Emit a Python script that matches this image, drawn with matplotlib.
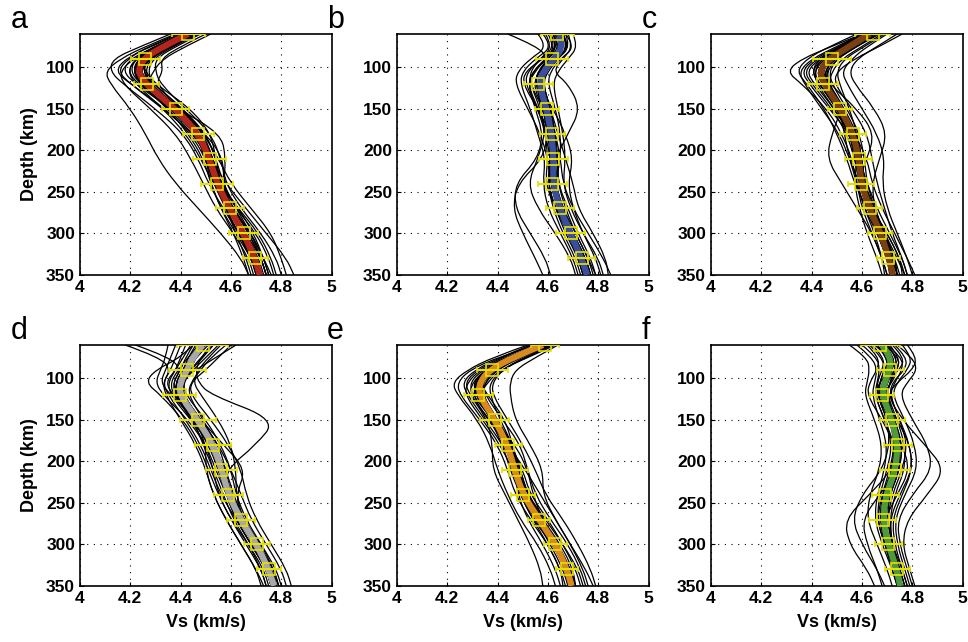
import matplotlib
matplotlib.use("Agg")
import matplotlib.pyplot as plt
from matplotlib.path import Path
from matplotlib.patches import PathPatch

plt.rcParams['font.family'] = ['Liberation Sans', 'DejaVu Sans']

# depth nodes (km) shared by every profile
DEPTH = [60, 75, 90, 105, 120, 150, 180, 210, 240, 270, 300, 330, 350]
# depths of the yellow error bars
BAR_DEPTH = [60, 90, 120, 150, 180, 210, 240, 270, 300, 330]

LETTERS = ["a", "b", "c", "d", "e", "f"]
MEAN_COLORS = ["#b3261e", "#3a4ea0", "#7b3f12", "#a8a8a8", "#d88a1e", "#4c9a3c"]
YELLOW = "#e6e000"

# mean profiles (thick coloured line)
mean_a = [4.43, 4.33, 4.25, 4.23, 4.26, 4.38, 4.47, 4.515, 4.545, 4.595, 4.65, 4.695, 4.715]
mean_b = [4.645, 4.66, 4.627, 4.58, 4.565, 4.594, 4.614, 4.623, 4.62, 4.647, 4.69, 4.733, 4.756]
mean_c = [4.63, 4.55, 4.47, 4.43, 4.45, 4.514, 4.564, 4.588, 4.597, 4.63, 4.674, 4.707, 4.723]
mean_d = [4.487, 4.447, 4.427, 4.397, 4.397, 4.467, 4.529, 4.563, 4.59, 4.639, 4.702, 4.749, 4.771]
mean_e = [4.58, 4.46, 4.369, 4.329, 4.326, 4.389, 4.439, 4.468, 4.501, 4.565, 4.631, 4.676, 4.694]
mean_f = [4.68, 4.716, 4.709, 4.69, 4.68, 4.719, 4.742, 4.733, 4.696, 4.683, 4.705, 4.738, 4.752]

# error bar centres and half widths
bar_a = [4.43, 4.26, 4.266, 4.381, 4.471, 4.515, 4.544, 4.595, 4.651, 4.696]
err_a = [0.065, 0.057, 0.05, 0.054, 0.06, 0.065, 0.063, 0.056, 0.057, 0.05]
bar_b = [4.638, 4.617, 4.562, 4.595, 4.618, 4.622, 4.618, 4.647, 4.69, 4.735]
err_b = [0.066, 0.063, 0.058, 0.048, 0.05, 0.058, 0.058, 0.055, 0.056, 0.054]
bar_c = [4.643, 4.482, 4.445, 4.513, 4.563, 4.587, 4.597, 4.631, 4.672, 4.705]
err_c = [0.07, 0.075, 0.059, 0.048, 0.052, 0.054, 0.052, 0.049, 0.049, 0.046]
bar_d = [4.487, 4.427, 4.397, 4.47, 4.529, 4.562, 4.589, 4.64, 4.702, 4.751]
err_d = [0.10, 0.072, 0.066, 0.072, 0.071, 0.062, 0.057, 0.055, 0.052, 0.048]
bar_e = [4.588, 4.379, 4.324, 4.389, 4.442, 4.468, 4.501, 4.566, 4.63, 4.676]
err_e = [0.056, 0.062, 0.058, 0.058, 0.054, 0.052, 0.048, 0.044, 0.045, 0.045]
bar_f = [4.672, 4.713, 4.678, 4.721, 4.744, 4.731, 4.692, 4.682, 4.705, 4.74]
err_f = [0.077, 0.053, 0.048, 0.05, 0.056, 0.06, 0.054, 0.055, 0.053, 0.05]

# ensemble members (thin black lines)
members_a = [
    [4.40, 4.28, 4.18, 4.14, 4.20, 4.34, 4.44, 4.50, 4.53, 4.58, 4.62, 4.66, 4.68],
    [4.45, 4.35, 4.27, 4.25, 4.28, 4.40, 4.50, 4.54, 4.57, 4.62, 4.68, 4.72, 4.74],
    [4.48, 4.38, 4.30, 4.30, 4.32, 4.42, 4.52, 4.56, 4.58, 4.64, 4.72, 4.78, 4.80],
    [4.42, 4.30, 4.20, 4.17, 4.22, 4.36, 4.47, 4.52, 4.55, 4.58, 4.63, 4.68, 4.70],
    [4.38, 4.26, 4.16, 4.10, 4.12, 4.20, 4.26, 4.31, 4.38, 4.47, 4.56, 4.64, 4.67],
    [4.50, 4.40, 4.32, 4.33, 4.30, 4.40, 4.48, 4.52, 4.54, 4.60, 4.66, 4.70, 4.72],
    [4.44, 4.33, 4.24, 4.21, 4.25, 4.37, 4.46, 4.52, 4.58, 4.66, 4.74, 4.82, 4.85],
    [4.41, 4.29, 4.22, 4.20, 4.24, 4.35, 4.43, 4.49, 4.52, 4.56, 4.61, 4.65, 4.67],
    [4.46, 4.36, 4.28, 4.24, 4.26, 4.39, 4.56, 4.58, 4.57, 4.60, 4.65, 4.70, 4.72],
    [4.43, 4.31, 4.21, 4.16, 4.17, 4.28, 4.38, 4.44, 4.49, 4.54, 4.61, 4.67, 4.69],
    [4.47, 4.37, 4.29, 4.27, 4.29, 4.41, 4.49, 4.55, 4.60, 4.68, 4.76, 4.80, 4.82],
    [4.39, 4.27, 4.19, 4.15, 4.20, 4.33, 4.45, 4.51, 4.55, 4.61, 4.67, 4.72, 4.74],
    [4.52, 4.42, 4.33, 4.29, 4.27, 4.36, 4.46, 4.50, 4.52, 4.56, 4.62, 4.68, 4.71],
    [4.45, 4.34, 4.26, 4.23, 4.27, 4.38, 4.48, 4.53, 4.56, 4.62, 4.70, 4.75, 4.77],
    [4.36, 4.24, 4.13, 4.12, 4.17, 4.30, 4.41, 4.47, 4.51, 4.57, 4.63, 4.69, 4.71],
    [4.44, 4.32, 4.23, 4.22, 4.26, 4.39, 4.50, 4.57, 4.57, 4.59, 4.64, 4.69, 4.71],
    [4.43, 4.30, 4.24, 4.26, 4.30, 4.44, 4.52, 4.54, 4.55, 4.63, 4.71, 4.76, 4.78],
    [4.41, 4.31, 4.22, 4.19, 4.22, 4.33, 4.42, 4.48, 4.53, 4.60, 4.68, 4.73, 4.75],
    [4.42, 4.32, 4.24, 4.21, 4.24, 4.36, 4.46, 4.51, 4.54, 4.60, 4.66, 4.71, 4.73],
    [4.45, 4.35, 4.27, 4.24, 4.27, 4.40, 4.49, 4.53, 4.55, 4.59, 4.64, 4.69, 4.71],
    [4.44, 4.33, 4.25, 4.24, 4.28, 4.39, 4.46, 4.50, 4.53, 4.59, 4.66, 4.72, 4.74],
    [4.41, 4.30, 4.23, 4.21, 4.25, 4.37, 4.48, 4.53, 4.56, 4.61, 4.67, 4.72, 4.74],
    [4.46, 4.36, 4.28, 4.26, 4.28, 4.38, 4.47, 4.52, 4.56, 4.63, 4.69, 4.73, 4.75],
    [4.43, 4.33, 4.26, 4.22, 4.24, 4.35, 4.45, 4.51, 4.54, 4.58, 4.63, 4.68, 4.70],
    [4.40, 4.31, 4.22, 4.19, 4.23, 4.36, 4.47, 4.52, 4.55, 4.61, 4.68, 4.73, 4.76],
    [4.47, 4.36, 4.27, 4.25, 4.29, 4.41, 4.50, 4.54, 4.56, 4.60, 4.65, 4.70, 4.72],
]
members_b = [
    [4.58, 4.62, 4.55, 4.50, 4.49, 4.53, 4.56, 4.59, 4.58, 4.60, 4.65, 4.70, 4.72],
    [4.66, 4.68, 4.64, 4.60, 4.58, 4.61, 4.63, 4.64, 4.63, 4.66, 4.71, 4.76, 4.78],
    [4.70, 4.72, 4.68, 4.64, 4.62, 4.64, 4.66, 4.67, 4.66, 4.69, 4.74, 4.80, 4.82],
    [4.44, 4.56, 4.60, 4.57, 4.54, 4.58, 4.60, 4.61, 4.60, 4.63, 4.67, 4.72, 4.74],
    [4.62, 4.64, 4.58, 4.51, 4.50, 4.56, 4.60, 4.58, 4.48, 4.46, 4.50, 4.55, 4.58],
    [4.64, 4.66, 4.61, 4.56, 4.55, 4.60, 4.63, 4.65, 4.66, 4.70, 4.76, 4.82, 4.85],
    [4.60, 4.63, 4.57, 4.53, 4.53, 4.58, 4.61, 4.62, 4.61, 4.64, 4.68, 4.73, 4.75],
    [4.68, 4.70, 4.66, 4.62, 4.68, 4.73, 4.68, 4.63, 4.60, 4.62, 4.66, 4.71, 4.73],
    [4.63, 4.66, 4.62, 4.58, 4.56, 4.57, 4.59, 4.60, 4.59, 4.63, 4.69, 4.74, 4.76],
    [4.56, 4.60, 4.53, 4.48, 4.47, 4.52, 4.57, 4.60, 4.61, 4.64, 4.69, 4.74, 4.76],
    [4.66, 4.69, 4.63, 4.57, 4.56, 4.62, 4.67, 4.70, 4.68, 4.70, 4.74, 4.79, 4.81],
    [4.61, 4.63, 4.59, 4.55, 4.52, 4.55, 4.58, 4.56, 4.47, 4.47, 4.53, 4.59, 4.61],
    [4.65, 4.67, 4.62, 4.59, 4.57, 4.59, 4.62, 4.63, 4.62, 4.65, 4.70, 4.75, 4.77],
    [4.62, 4.65, 4.60, 4.54, 4.52, 4.56, 4.61, 4.64, 4.64, 4.68, 4.72, 4.77, 4.79],
    [4.67, 4.71, 4.65, 4.61, 4.60, 4.63, 4.65, 4.65, 4.63, 4.65, 4.69, 4.73, 4.75],
    [4.59, 4.62, 4.57, 4.52, 4.51, 4.56, 4.59, 4.61, 4.62, 4.65, 4.70, 4.75, 4.77],
    [4.64, 4.67, 4.63, 4.59, 4.58, 4.61, 4.64, 4.67, 4.70, 4.72, 4.78, 4.83, 4.84],
    [4.63, 4.64, 4.59, 4.54, 4.53, 4.57, 4.59, 4.56, 4.52, 4.56, 4.63, 4.69, 4.71],
    [4.63, 4.66, 4.61, 4.56, 4.55, 4.59, 4.62, 4.63, 4.62, 4.64, 4.68, 4.72, 4.74],
    [4.66, 4.68, 4.64, 4.59, 4.57, 4.60, 4.61, 4.61, 4.61, 4.65, 4.70, 4.75, 4.77],
    [4.62, 4.65, 4.62, 4.57, 4.56, 4.58, 4.60, 4.62, 4.63, 4.66, 4.70, 4.74, 4.76],
    [4.65, 4.67, 4.63, 4.59, 4.58, 4.61, 4.63, 4.63, 4.62, 4.64, 4.68, 4.72, 4.74],
    [4.64, 4.66, 4.61, 4.57, 4.57, 4.60, 4.62, 4.64, 4.64, 4.67, 4.71, 4.76, 4.79],
    [4.67, 4.69, 4.64, 4.58, 4.56, 4.59, 4.61, 4.61, 4.60, 4.63, 4.68, 4.73, 4.75],
    [4.61, 4.64, 4.60, 4.56, 4.55, 4.58, 4.61, 4.62, 4.61, 4.64, 4.69, 4.73, 4.75],
    [4.65, 4.67, 4.63, 4.58, 4.57, 4.60, 4.62, 4.63, 4.63, 4.65, 4.69, 4.74, 4.76],
]
members_c = [
    [4.60, 4.48, 4.36, 4.30, 4.36, 4.46, 4.52, 4.56, 4.58, 4.61, 4.65, 4.68, 4.69],
    [4.66, 4.58, 4.50, 4.47, 4.48, 4.54, 4.59, 4.61, 4.62, 4.65, 4.69, 4.73, 4.74],
    [4.70, 4.62, 4.56, 4.52, 4.54, 4.60, 4.66, 4.69, 4.68, 4.70, 4.74, 4.78, 4.80],
    [4.62, 4.52, 4.42, 4.37, 4.40, 4.48, 4.54, 4.57, 4.60, 4.64, 4.68, 4.72, 4.73],
    [4.64, 4.55, 4.46, 4.42, 4.44, 4.52, 4.48, 4.46, 4.52, 4.58, 4.64, 4.68, 4.70],
    [4.74, 4.66, 4.58, 4.55, 4.57, 4.65, 4.70, 4.67, 4.64, 4.65, 4.69, 4.74, 4.77],
    [4.58, 4.47, 4.38, 4.34, 4.38, 4.45, 4.50, 4.54, 4.57, 4.62, 4.68, 4.73, 4.75],
    [4.68, 4.60, 4.52, 4.48, 4.47, 4.50, 4.56, 4.60, 4.61, 4.63, 4.66, 4.70, 4.72],
    [4.63, 4.53, 4.44, 4.40, 4.43, 4.50, 4.57, 4.62, 4.64, 4.68, 4.73, 4.78, 4.81],
    [4.61, 4.51, 4.41, 4.36, 4.39, 4.47, 4.55, 4.58, 4.57, 4.59, 4.62, 4.66, 4.68],
    [4.76, 4.67, 4.57, 4.50, 4.49, 4.56, 4.62, 4.64, 4.66, 4.69, 4.72, 4.76, 4.78],
    [4.65, 4.56, 4.47, 4.43, 4.45, 4.51, 4.56, 4.59, 4.60, 4.62, 4.67, 4.71, 4.73],
    [4.60, 4.50, 4.40, 4.35, 4.37, 4.44, 4.51, 4.55, 4.59, 4.64, 4.70, 4.75, 4.77],
    [4.67, 4.58, 4.49, 4.45, 4.47, 4.58, 4.65, 4.62, 4.58, 4.61, 4.66, 4.70, 4.72],
    [4.63, 4.54, 4.45, 4.41, 4.42, 4.49, 4.55, 4.58, 4.60, 4.63, 4.67, 4.71, 4.72],
    [4.69, 4.61, 4.53, 4.50, 4.51, 4.55, 4.58, 4.60, 4.61, 4.64, 4.70, 4.75, 4.76],
    [4.62, 4.53, 4.43, 4.38, 4.41, 4.49, 4.55, 4.59, 4.62, 4.66, 4.71, 4.76, 4.78],
    [4.65, 4.56, 4.48, 4.46, 4.46, 4.51, 4.53, 4.55, 4.58, 4.60, 4.64, 4.68, 4.70],
    [4.62, 4.54, 4.46, 4.42, 4.44, 4.51, 4.56, 4.59, 4.60, 4.63, 4.67, 4.70, 4.72],
    [4.65, 4.57, 4.49, 4.45, 4.46, 4.52, 4.57, 4.59, 4.60, 4.63, 4.68, 4.72, 4.74],
    [4.61, 4.52, 4.44, 4.41, 4.43, 4.50, 4.55, 4.58, 4.60, 4.64, 4.69, 4.73, 4.74],
    [4.64, 4.56, 4.48, 4.44, 4.47, 4.53, 4.58, 4.60, 4.60, 4.62, 4.66, 4.70, 4.71],
    [4.63, 4.54, 4.47, 4.43, 4.45, 4.52, 4.57, 4.60, 4.61, 4.64, 4.68, 4.71, 4.73],
    [4.66, 4.58, 4.50, 4.46, 4.47, 4.52, 4.55, 4.57, 4.59, 4.62, 4.67, 4.71, 4.73],
    [4.60, 4.51, 4.43, 4.40, 4.43, 4.50, 4.56, 4.59, 4.61, 4.65, 4.69, 4.72, 4.74],
    [4.64, 4.56, 4.48, 4.43, 4.44, 4.50, 4.55, 4.58, 4.59, 4.62, 4.67, 4.71, 4.72],
]
members_d = [
    [4.18, 4.32, 4.36, 4.33, 4.35, 4.42, 4.48, 4.52, 4.56, 4.62, 4.68, 4.74, 4.76],
    [4.22, 4.36, 4.40, 4.37, 4.38, 4.44, 4.50, 4.54, 4.58, 4.64, 4.71, 4.77, 4.79],
    [4.45, 4.40, 4.30, 4.26, 4.32, 4.41, 4.47, 4.51, 4.55, 4.60, 4.66, 4.72, 4.74],
    [4.52, 4.48, 4.46, 4.47, 4.52, 4.78, 4.70, 4.58, 4.58, 4.62, 4.68, 4.74, 4.76],
    [4.55, 4.50, 4.45, 4.41, 4.42, 4.50, 4.56, 4.60, 4.62, 4.66, 4.72, 4.78, 4.80],
    [4.40, 4.38, 4.36, 4.33, 4.34, 4.40, 4.46, 4.50, 4.53, 4.58, 4.64, 4.70, 4.72],
    [4.60, 4.55, 4.50, 4.44, 4.44, 4.52, 4.59, 4.64, 4.66, 4.70, 4.76, 4.82, 4.84],
    [4.48, 4.44, 4.41, 4.38, 4.39, 4.46, 4.53, 4.58, 4.61, 4.65, 4.71, 4.76, 4.78],
    [4.35, 4.34, 4.32, 4.30, 4.33, 4.43, 4.50, 4.53, 4.55, 4.60, 4.67, 4.73, 4.75],
    [4.50, 4.45, 4.43, 4.40, 4.40, 4.48, 4.57, 4.66, 4.62, 4.64, 4.69, 4.75, 4.77],
    [4.58, 4.52, 4.48, 4.44, 4.43, 4.49, 4.54, 4.56, 4.58, 4.62, 4.68, 4.74, 4.76],
    [4.42, 4.40, 4.38, 4.35, 4.36, 4.44, 4.52, 4.56, 4.59, 4.63, 4.69, 4.75, 4.77],
    [4.47, 4.43, 4.39, 4.36, 4.37, 4.46, 4.50, 4.50, 4.53, 4.58, 4.64, 4.70, 4.73],
    [4.53, 4.49, 4.44, 4.40, 4.41, 4.48, 4.55, 4.60, 4.64, 4.68, 4.74, 4.80, 4.82],
    [4.38, 4.36, 4.34, 4.32, 4.36, 4.46, 4.53, 4.57, 4.60, 4.64, 4.70, 4.76, 4.78],
    [4.56, 4.51, 4.47, 4.45, 4.48, 4.55, 4.60, 4.62, 4.62, 4.65, 4.70, 4.76, 4.78],
    [4.44, 4.41, 4.38, 4.34, 4.37, 4.45, 4.49, 4.53, 4.57, 4.61, 4.67, 4.72, 4.74],
    [4.62, 4.54, 4.46, 4.38, 4.38, 4.45, 4.52, 4.57, 4.60, 4.64, 4.70, 4.76, 4.79],
    [4.48, 4.44, 4.42, 4.39, 4.39, 4.46, 4.52, 4.56, 4.59, 4.64, 4.70, 4.75, 4.77],
    [4.51, 4.46, 4.43, 4.40, 4.41, 4.48, 4.54, 4.57, 4.59, 4.63, 4.69, 4.74, 4.76],
    [4.46, 4.43, 4.41, 4.38, 4.39, 4.46, 4.53, 4.57, 4.60, 4.65, 4.71, 4.76, 4.78],
    [4.50, 4.45, 4.43, 4.40, 4.40, 4.47, 4.52, 4.55, 4.58, 4.63, 4.70, 4.75, 4.77],
    [4.49, 4.46, 4.44, 4.41, 4.41, 4.48, 4.55, 4.58, 4.60, 4.65, 4.72, 4.77, 4.79],
    [4.47, 4.44, 4.41, 4.38, 4.38, 4.45, 4.52, 4.56, 4.59, 4.64, 4.70, 4.75, 4.77],
    [4.53, 4.48, 4.44, 4.40, 4.39, 4.46, 4.53, 4.57, 4.60, 4.64, 4.71, 4.76, 4.78],
    [4.45, 4.42, 4.40, 4.37, 4.38, 4.45, 4.51, 4.55, 4.58, 4.63, 4.69, 4.74, 4.76],
]
members_e = [
    [4.55, 4.40, 4.29, 4.24, 4.25, 4.33, 4.40, 4.44, 4.47, 4.53, 4.60, 4.65, 4.67],
    [4.60, 4.48, 4.40, 4.35, 4.34, 4.40, 4.46, 4.49, 4.52, 4.58, 4.65, 4.70, 4.71],
    [4.64, 4.55, 4.47, 4.45, 4.45, 4.47, 4.53, 4.58, 4.58, 4.63, 4.69, 4.75, 4.78],
    [4.52, 4.38, 4.28, 4.22, 4.24, 4.32, 4.37, 4.40, 4.44, 4.49, 4.56, 4.61, 4.63],
    [4.58, 4.45, 4.36, 4.31, 4.31, 4.38, 4.43, 4.46, 4.50, 4.56, 4.63, 4.68, 4.70],
    [4.62, 4.50, 4.42, 4.38, 4.38, 4.44, 4.50, 4.55, 4.59, 4.66, 4.72, 4.77, 4.79],
    [4.57, 4.44, 4.34, 4.29, 4.30, 4.38, 4.47, 4.52, 4.54, 4.58, 4.63, 4.67, 4.69],
    [4.54, 4.42, 4.32, 4.27, 4.29, 4.36, 4.38, 4.38, 4.43, 4.48, 4.53, 4.57, 4.58],
    [4.61, 4.49, 4.39, 4.34, 4.35, 4.42, 4.49, 4.52, 4.55, 4.61, 4.68, 4.73, 4.75],
    [4.56, 4.43, 4.33, 4.28, 4.27, 4.34, 4.41, 4.46, 4.50, 4.55, 4.61, 4.66, 4.68],
    [4.59, 4.47, 4.37, 4.33, 4.36, 4.43, 4.46, 4.48, 4.52, 4.59, 4.66, 4.72, 4.74],
    [4.63, 4.52, 4.41, 4.36, 4.33, 4.37, 4.42, 4.45, 4.49, 4.54, 4.60, 4.65, 4.66],
    [4.57, 4.46, 4.36, 4.30, 4.32, 4.40, 4.45, 4.50, 4.53, 4.60, 4.66, 4.71, 4.73],
    [4.60, 4.49, 4.40, 4.33, 4.32, 4.37, 4.44, 4.48, 4.52, 4.57, 4.62, 4.67, 4.69],
    [4.53, 4.41, 4.31, 4.26, 4.28, 4.35, 4.42, 4.48, 4.51, 4.56, 4.64, 4.69, 4.71],
    [4.62, 4.51, 4.42, 4.37, 4.37, 4.41, 4.46, 4.47, 4.48, 4.52, 4.58, 4.63, 4.65],
    [4.58, 4.46, 4.38, 4.32, 4.30, 4.36, 4.44, 4.51, 4.57, 4.63, 4.69, 4.74, 4.76],
    [4.56, 4.45, 4.35, 4.30, 4.29, 4.37, 4.43, 4.47, 4.49, 4.54, 4.62, 4.68, 4.70],
    [4.57, 4.45, 4.36, 4.32, 4.32, 4.38, 4.43, 4.46, 4.50, 4.56, 4.63, 4.68, 4.70],
    [4.59, 4.47, 4.38, 4.34, 4.33, 4.39, 4.44, 4.47, 4.50, 4.56, 4.62, 4.67, 4.69],
    [4.60, 4.48, 4.38, 4.33, 4.33, 4.40, 4.45, 4.48, 4.51, 4.57, 4.64, 4.69, 4.71],
    [4.56, 4.44, 4.35, 4.31, 4.31, 4.38, 4.44, 4.47, 4.50, 4.55, 4.62, 4.67, 4.69],
    [4.58, 4.46, 4.37, 4.33, 4.34, 4.40, 4.45, 4.48, 4.51, 4.57, 4.63, 4.68, 4.70],
    [4.61, 4.49, 4.39, 4.35, 4.34, 4.39, 4.43, 4.46, 4.49, 4.55, 4.62, 4.67, 4.68],
    [4.57, 4.45, 4.36, 4.31, 4.32, 4.39, 4.45, 4.49, 4.52, 4.58, 4.64, 4.69, 4.71],
    [4.59, 4.47, 4.37, 4.33, 4.33, 4.39, 4.44, 4.47, 4.50, 4.56, 4.63, 4.68, 4.70],
]
members_f = [
    [4.55, 4.62, 4.63, 4.62, 4.61, 4.65, 4.68, 4.67, 4.63, 4.62, 4.66, 4.70, 4.72],
    [4.70, 4.76, 4.76, 4.73, 4.71, 4.75, 4.78, 4.76, 4.72, 4.70, 4.72, 4.76, 4.78],
    [4.74, 4.80, 4.82, 4.78, 4.75, 4.80, 4.86, 4.88, 4.80, 4.74, 4.75, 4.78, 4.80],
    [4.62, 4.67, 4.66, 4.63, 4.62, 4.68, 4.73, 4.72, 4.63, 4.53, 4.55, 4.62, 4.65],
    [4.68, 4.73, 4.72, 4.70, 4.69, 4.73, 4.76, 4.75, 4.71, 4.69, 4.71, 4.74, 4.76],
    [4.78, 4.82, 4.80, 4.74, 4.70, 4.76, 4.85, 4.93, 4.86, 4.78, 4.76, 4.79, 4.81],
    [4.60, 4.66, 4.67, 4.66, 4.65, 4.69, 4.72, 4.70, 4.67, 4.66, 4.69, 4.73, 4.75],
    [4.65, 4.71, 4.74, 4.72, 4.68, 4.71, 4.74, 4.73, 4.69, 4.67, 4.69, 4.72, 4.74],
    [4.72, 4.77, 4.75, 4.69, 4.66, 4.70, 4.76, 4.79, 4.74, 4.69, 4.70, 4.74, 4.76],
    [4.64, 4.69, 4.68, 4.66, 4.66, 4.70, 4.71, 4.68, 4.60, 4.56, 4.60, 4.66, 4.69],
    [4.66, 4.70, 4.70, 4.68, 4.68, 4.74, 4.79, 4.80, 4.76, 4.72, 4.73, 4.76, 4.78],
    [4.70, 4.74, 4.73, 4.71, 4.70, 4.72, 4.75, 4.74, 4.70, 4.68, 4.70, 4.73, 4.74],
    [4.58, 4.64, 4.66, 4.65, 4.64, 4.67, 4.70, 4.69, 4.66, 4.65, 4.68, 4.72, 4.74],
    [4.76, 4.80, 4.78, 4.74, 4.72, 4.77, 4.81, 4.82, 4.77, 4.73, 4.74, 4.77, 4.79],
    [4.67, 4.72, 4.71, 4.67, 4.65, 4.69, 4.73, 4.71, 4.68, 4.66, 4.69, 4.73, 4.75],
    [4.69, 4.75, 4.74, 4.71, 4.70, 4.74, 4.77, 4.77, 4.73, 4.71, 4.72, 4.75, 4.77],
    [4.63, 4.68, 4.69, 4.67, 4.66, 4.71, 4.75, 4.74, 4.67, 4.60, 4.62, 4.66, 4.68],
    [4.73, 4.78, 4.77, 4.72, 4.71, 4.75, 4.79, 4.80, 4.75, 4.71, 4.72, 4.75, 4.77],
    [4.67, 4.71, 4.70, 4.68, 4.67, 4.71, 4.74, 4.73, 4.69, 4.68, 4.70, 4.73, 4.75],
    [4.69, 4.73, 4.72, 4.70, 4.69, 4.73, 4.75, 4.74, 4.70, 4.69, 4.71, 4.74, 4.76],
    [4.66, 4.70, 4.70, 4.68, 4.68, 4.72, 4.75, 4.74, 4.70, 4.68, 4.70, 4.73, 4.75],
    [4.70, 4.74, 4.73, 4.70, 4.69, 4.72, 4.74, 4.72, 4.68, 4.67, 4.70, 4.74, 4.76],
    [4.68, 4.72, 4.71, 4.69, 4.68, 4.72, 4.75, 4.75, 4.71, 4.69, 4.71, 4.74, 4.76],
    [4.71, 4.75, 4.74, 4.71, 4.70, 4.73, 4.76, 4.75, 4.71, 4.70, 4.72, 4.75, 4.77],
    [4.67, 4.71, 4.69, 4.67, 4.67, 4.71, 4.73, 4.72, 4.69, 4.68, 4.71, 4.74, 4.76],
    [4.69, 4.73, 4.72, 4.69, 4.68, 4.71, 4.74, 4.74, 4.70, 4.69, 4.71, 4.74, 4.75],
]

MEANS = [mean_a, mean_b, mean_c, mean_d, mean_e, mean_f]
BARS = [bar_a, bar_b, bar_c, bar_d, bar_e, bar_f]
ERRS = [err_a, err_b, err_c, err_d, err_e, err_f]
MEMBERS = [members_a, members_b, members_c, members_d, members_e, members_f]

X_TICKS = [4, 4.2, 4.4, 4.6, 4.8, 5]
X_LABELS = ["4", "4.2", "4.4", "4.6", "4.8", "5"]
Y_TICKS = [100, 150, 200, 250, 300, 350]

# panel boxes in figure fractions: left, bottom, width, height
LEFTS = [0.0826, 0.410, 0.7345]
BOTTOMS = [0.5717, 0.0872]
W, H = 0.260, 0.3754


def smooth_profile(ax, xs, ys, **kw):
    # quadratic bezier path through the node midpoints, so profiles look smooth
    verts = [(xs[0], ys[0])]
    codes = [Path.MOVETO]
    for k in range(1, len(xs) - 1):
        verts += [(xs[k], ys[k]), ((xs[k] + xs[k + 1]) / 2, (ys[k] + ys[k + 1]) / 2)]
        codes += [Path.CURVE3, Path.CURVE3]
    verts.append((xs[-1], ys[-1]))
    codes.append(Path.LINETO)
    ax.add_patch(PathPatch(Path(verts, codes), fill=False, **kw))


def main():
    fig = plt.figure(figsize=(9.68, 6.42), dpi=100)
    for i in range(6):
        row, col = divmod(i, 3)
        ax = fig.add_axes([LEFTS[col], BOTTOMS[row], W, H])

        for m in MEMBERS[i]:
            smooth_profile(ax, m, DEPTH, edgecolor="black", lw=0.9, zorder=2)
        smooth_profile(ax, MEANS[i], DEPTH, edgecolor=MEAN_COLORS[i], lw=4.5,
                       capstyle="butt", zorder=3)
        ax.errorbar(BARS[i], BAR_DEPTH, xerr=ERRS[i], fmt="s", ms=8, mfc="none",
                    mec=YELLOW, mew=1.2, ecolor=YELLOW, elinewidth=1.5, capsize=2.5,
                    capthick=1.2, zorder=4)

        ax.set_xlim(4, 5)
        ax.set_ylim(350, 60)
        ax.set_xticks(X_TICKS)
        ax.set_xticklabels(X_LABELS)
        ax.set_yticks(Y_TICKS)
        ax.grid(True, linestyle=(0, (1, 5)), color="black", lw=0.8)
        ax.tick_params(direction="in", length=3, width=0.8, labelsize=12.5)
        for lab in ax.get_xticklabels() + ax.get_yticklabels():
            lab.set_fontweight("bold")
        for sp in ax.spines.values():
            sp.set_linewidth(1.2)

        if col == 0:
            ax.set_ylabel("Depth (km)", fontsize=13, fontweight="bold", labelpad=6)
        if row == 1:
            ax.set_xlabel("Vs (km/s)", fontsize=13, fontweight="bold", labelpad=6)

        fig.text(LEFTS[col] - 0.072, BOTTOMS[row] + H + 0.01, LETTERS[i],
                 fontsize=22, va="baseline", ha="left")

    fig.savefig("out.png", dpi=100)


if __name__ == "__main__":
    main()
